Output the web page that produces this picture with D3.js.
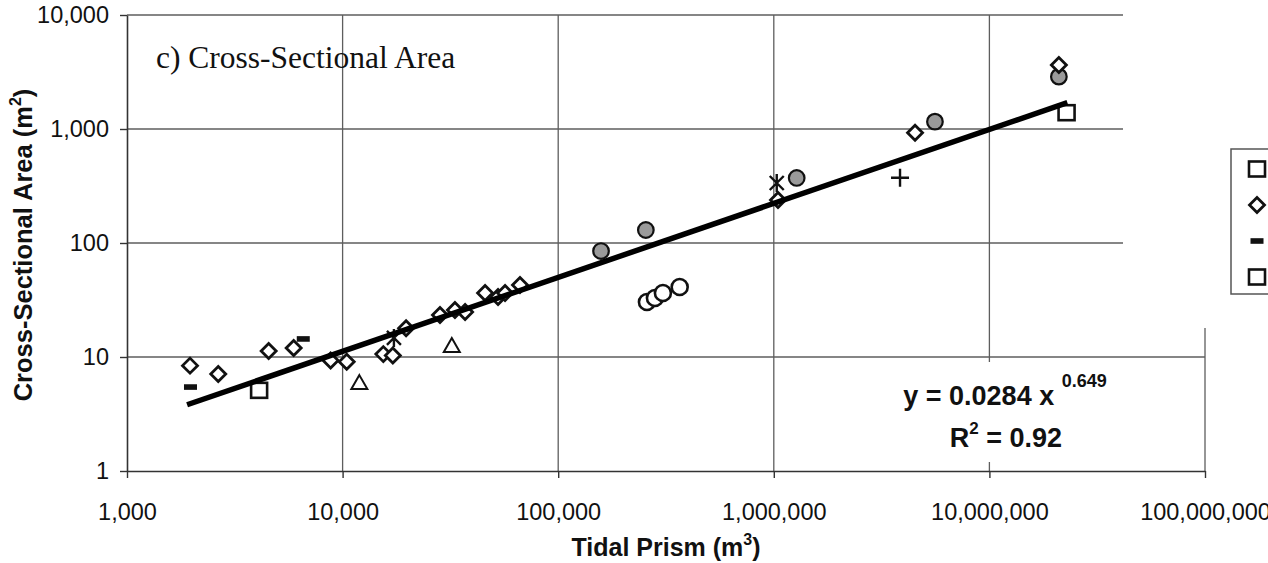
<!DOCTYPE html>
<html>
<head>
<meta charset="utf-8">
<script src="https://cdn.jsdelivr.net/npm/d3@7"></script>
<style>
  html, body { margin: 0; padding: 0; background: #fff; }
  svg { display: block; }
</style>
</head>
<body>
<svg id="chart" width="1268" height="563"></svg>
<script>
// ---- data (tidal prism m^3, cross-sectional area m^2) ----
const squaresA    = [[4100, 5.1]];
const diamonds    = [[1960, 8.4], [2650, 7.1], [4540, 11.3], [5930, 12.0], [8800, 9.3], [10450, 9.1],
                     [15450, 10.6], [17100, 10.3], [19700, 17.9], [28300, 23.4], [33200, 25.8], [37000, 24.8],
                     [45800, 36.4], [52600, 33.6], [56700, 36.4], [66500, 42.8], [1046000, 238],
                     [4520000, 928], [21000000, 3640]];
const dashes      = [[1970, 5.45], [6570, 14.4]];
const squaresB    = [[22800000, 1390]];
const grayCircles = [[158000, 85], [255000, 130], [1277000, 372], [5590000, 1160], [21000000, 2880]];
const openCircles = [[258000, 30.4], [281000, 32.9], [306000, 36.4], [366000, 41.1]];
const triangles   = [[11960, 5.9], [32100, 12.5]];
const stars       = [[17300, 14.7], [1032000, 336]];
const plusses     = [[3850000, 374]];

const xTicks = [1e3, 1e4, 1e5, 1e6, 1e7, 1e8];
const yTicks = [1, 10, 100, 1000, 10000];
const fitCoef = 0.0284, fitExp = 0.649, fitRange = [1900, 23000000];
const legendMarkers = ["square", "diamond", "dash", "square"];

// ---- layout ----
const svg = d3.select("#chart");
const x = d3.scaleLog().domain([1e3, 1e8]).range([127, 1205]);
const y = d3.scaleLog().domain([1, 1e4]).range([471, 15]);
const fmt = d3.format(",");

// gridlines
const grid = svg.append("g").attr("stroke", "#5e5e5e").attr("stroke-width", 1.3);
grid.selectAll("line.v").data(xTicks.slice(1)).join("line")
  .attr("x1", d => x(d)).attr("x2", d => x(d)).attr("y1", y(1e4)).attr("y2", y(1));
grid.selectAll("line.h").data(yTicks.slice(1)).join("line")
  .attr("x1", x(1e3)).attr("x2", x(1e8)).attr("y1", d => y(d)).attr("y2", d => y(d));

// axes
const yAxis = svg.append("g").attr("transform", `translate(${x(1e3)},0)`)
  .call(d3.axisLeft(y).tickValues(yTicks).tickFormat(fmt).tickSizeInner(7).tickSizeOuter(0).tickPadding(11));
const xAxis = svg.append("g").attr("transform", `translate(0,${y(1)})`)
  .call(d3.axisBottom(x).tickValues(xTicks).tickFormat(fmt).tickSizeInner(7).tickSizeOuter(0).tickPadding(25));
[yAxis, xAxis].forEach(g => {
  g.select(".domain").attr("stroke", "#333").attr("stroke-width", 1.6);
  g.selectAll(".tick line").attr("stroke", "#333").attr("stroke-width", 1.4);
  g.selectAll(".tick text").attr("font-family", "Liberation Sans, Arial, sans-serif")
    .attr("font-size", 23.5).attr("fill", "#111");
});

// white cover over top-right corner (legend area)
svg.append("rect").attr("x", 1123).attr("y", 0).attr("width", 145).attr("height", 328).attr("fill", "#fff");

// markers
const S = "#111";
const plot = svg.append("g");
function addMarkers(data, type) {
  const g = plot.append("g");
  data.forEach(([vx, vy]) => drawMarker(g, x(vx), y(vy), type));
}
function drawMarker(g, cx, cy, type) {
  if (type === "square") {
    g.append("rect").attr("x", cx - 8).attr("y", cy - 7.5).attr("width", 16).attr("height", 15)
      .attr("fill", "#fff").attr("stroke", S).attr("stroke-width", 2.6);
  } else if (type === "diamond") {
    g.append("path").attr("d", `M${cx},${cy - 7.5}L${cx + 7.5},${cy}L${cx},${cy + 7.5}L${cx - 7.5},${cy}Z`)
      .attr("fill", "#fff").attr("stroke", S).attr("stroke-width", 2.8);
  } else if (type === "dash") {
    g.append("rect").attr("x", cx - 6.5).attr("y", cy - 2.8).attr("width", 13).attr("height", 5.6).attr("fill", S);
  } else if (type === "gray") {
    g.append("circle").attr("cx", cx).attr("cy", cy).attr("r", 7.8)
      .attr("fill", "#9a9a9a").attr("stroke", S).attr("stroke-width", 2.2);
  } else if (type === "circle") {
    g.append("circle").attr("cx", cx).attr("cy", cy).attr("r", 8)
      .attr("fill", "#fff").attr("stroke", S).attr("stroke-width", 2.6);
  } else if (type === "triangle") {
    g.append("path").attr("d", `M${cx},${cy - 8}L${cx + 8},${cy + 6}L${cx - 8},${cy + 6}Z`)
      .attr("fill", "#fff").attr("stroke", S).attr("stroke-width", 2);
  } else if (type === "star") {
    g.append("path").attr("d", `M${cx - 7},${cy - 7}L${cx + 7},${cy + 7}M${cx + 7},${cy - 7}L${cx - 7},${cy + 7}M${cx},${cy - 9}L${cx},${cy + 9}`)
      .attr("fill", "none").attr("stroke", S).attr("stroke-width", 2.4);
  } else if (type === "plus") {
    g.append("path").attr("d", `M${cx - 9},${cy}L${cx + 9},${cy}M${cx},${cy - 9}L${cx},${cy + 9}`)
      .attr("fill", "none").attr("stroke", S).attr("stroke-width", 2.4);
  }
}
addMarkers(grayCircles, "gray");
addMarkers(openCircles, "circle");
addMarkers(triangles, "triangle");
addMarkers(stars, "star");
addMarkers(plusses, "plus");
addMarkers(dashes, "dash");
addMarkers(diamonds, "diamond");
addMarkers(squaresA, "square");
addMarkers(squaresB, "square");

// power-law trendline (straight in log-log)
const fit = fitRange.map(v => [v, fitCoef * Math.pow(v, fitExp)]);
svg.append("path").datum(fit)
  .attr("d", d3.line().x(d => x(d[0])).y(d => y(d[1])))
  .attr("stroke", "#000").attr("stroke-width", 5.5).attr("fill", "none");

// equation box
svg.append("rect").attr("x", 880).attr("y", 362).attr("width", 250).attr("height", 100).attr("fill", "#fff");
const eq = svg.append("text").attr("x", 1005).attr("y", 405).attr("text-anchor", "middle")
  .attr("font-family", "Liberation Sans, Arial, sans-serif").attr("font-weight", "bold").attr("font-size", 27).attr("fill", "#111");
eq.append("tspan").text("y = 0.0284 x ");
eq.append("tspan").attr("font-size", 18).attr("dy", -18).text("0.649");
const r2 = svg.append("text").attr("x", 1006).attr("y", 447).attr("text-anchor", "middle")
  .attr("font-family", "Liberation Sans, Arial, sans-serif").attr("font-weight", "bold").attr("font-size", 27).attr("fill", "#111");
r2.append("tspan").text("R");
r2.append("tspan").attr("font-size", 17).attr("dy", -13).text("2");
r2.append("tspan").attr("dy", 13).text(" = 0.92");

// title inside plot
svg.append("text").attr("x", 156).attr("y", 68)
  .attr("font-family", "Liberation Serif, Times New Roman, serif").attr("font-size", 31.5).attr("fill", "#111")
  .text("c) Cross-Sectional Area");

// axis titles
const xt = svg.append("text").attr("x", 666).attr("y", 556).attr("text-anchor", "middle")
  .attr("font-family", "Liberation Sans, Arial, sans-serif").attr("font-weight", "bold").attr("font-size", 25).attr("fill", "#111");
xt.append("tspan").text("Tidal Prism (m");
xt.append("tspan").attr("font-size", 16).attr("dy", -11).text("3");
xt.append("tspan").attr("dy", 11).text(")");

const yt = svg.append("text").attr("transform", "translate(32,245) rotate(-90)").attr("text-anchor", "middle")
  .attr("font-family", "Liberation Sans, Arial, sans-serif").attr("font-weight", "bold").attr("font-size", 25.5).attr("fill", "#111");
yt.append("tspan").text("Cross-Sectional Area (m");
yt.append("tspan").attr("font-size", 16).attr("dy", -11).text("2");
yt.append("tspan").attr("dy", 11).text(")");

// legend (right part lies outside the picture)
const leg = svg.append("g");
leg.append("rect").attr("x", 1231).attr("y", 149).attr("width", 80).attr("height", 145)
  .attr("fill", "#fff").attr("stroke", "#555").attr("stroke-width", 1.5);
legendMarkers.forEach((t, i) => drawMarker(leg, 1257, 169 + i * 36, t));
</script>
</body>
</html>
